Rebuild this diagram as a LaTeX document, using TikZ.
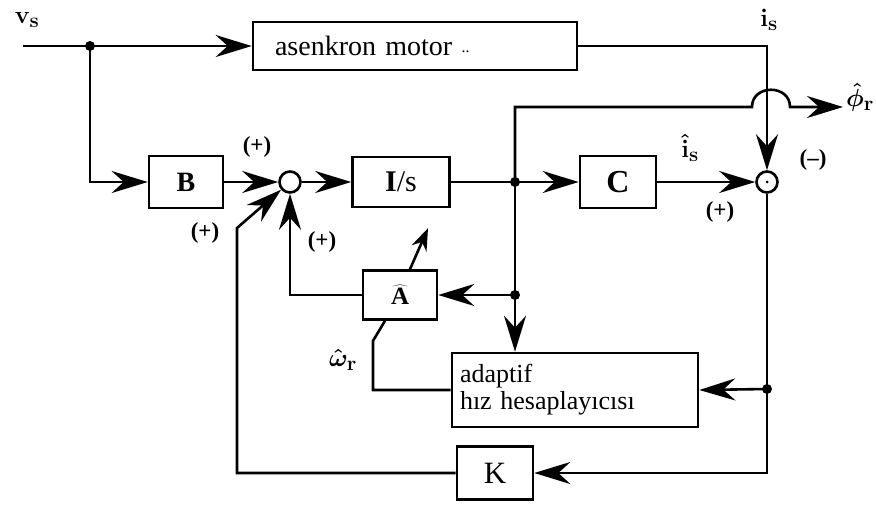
\documentclass[tikz,border=0pt]{standalone}
\usepackage{fontspec}
\setmainfont{Liberation Serif}
\usetikzlibrary{arrows.meta}
\begin{document}
\begin{tikzpicture}[x=1pt, y=-1pt, line width=2.6pt,
  arr/.style={-{Stealth[length=36pt,width=22pt,inset=12pt]}},
  adj/.style={-{Stealth[length=22pt,width=16pt,inset=7pt]}},
  blk/.style={draw, rectangle, inner sep=0pt},
  sumpt/.style={draw, circle, minimum size=21pt, inner sep=0pt},
  sgn/.style={font=\bfseries\fontsize{23}{25}\selectfont},
  lbl/.style={font=\boldmath\fontsize{29}{31}\selectfont}]
\useasboundingbox (0,0) rectangle (876,504);
% blocks
\node[blk, minimum width=324pt, minimum height=48pt, text width=280pt, align=left,
      font=\fontsize{28}{30}\selectfont] (motor) at (415,46)
      {asenkron motor \raisebox{3pt}{\fontsize{16}{16}\selectfont..}};
\node[blk, minimum width=74pt, minimum height=52pt, font=\bfseries\fontsize{28}{30}\selectfont] (B) at (186,182) {B};
\node[sumpt] (s1) at (290,182) {};
\node[blk, minimum width=97pt, minimum height=50pt, font=\fontsize{30}{32}\selectfont] (integ) at (401,182) {\textbf{I}/s};
\node[blk, minimum width=76pt, minimum height=52pt, font=\bfseries\fontsize{32}{34}\selectfont] (C) at (618,182) {C};
\node[sumpt] (s2) at (767,182) {};
\node[blk, minimum width=74pt, minimum height=49pt, font=\fontsize{24.88}{27}\selectfont] (Ahat) at (400,295) {$\widehat{\mathbf{A}}$};
\node[blk, minimum width=246pt, minimum height=74pt, text width=230pt, align=left,
      font=\fontsize{26}{27}\selectfont] (adapt) at (575,390) {adaptif\\hız hesaplayıcısı};
\node[blk, minimum width=76pt, minimum height=53pt, font=\fontsize{31}{33}\selectfont] (K) at (495,473) {K};
% branch points
\coordinate (in) at (23,46);
\coordinate (j1) at (90,46);
\coordinate (j2) at (515,182);
\coordinate (j3) at (515,295);
\coordinate (j4) at (767,389);
\coordinate (fb) at (237,228);
\coordinate (phi) at (843,107);
% signal lines
\draw (in) -- (j1);
\draw[arr] (j1) -- (motor.west);
\draw[arr] (j1) |- (B.west);
\draw[arr] (B) -- (s1);
\draw[arr] (s1) -- (integ);
\draw (integ) -- (j2);
\draw[arr] (j2) -- (C);
\draw[arr] (C) -- (s2);
\draw[arr] (motor.east) -| (s2.north);
\draw[arr] (j2) -- (515,107) -- (752,107) .. controls (752,84) and (790,84) .. (790,107) -- (phi);
\draw (j2) -- (j3);
\draw[arr] (j3) -- (Ahat);
\draw[arr] (j3) -- (adapt.north -| j3);
\draw[arr] (Ahat.west) -| (s1.south);
\draw ([xshift=-15pt]Ahat.south) -- ++(-12,20) |- (adapt.west);
\draw (s2) -- (j4);
\draw[arr] (j4) -- (adapt.east);
\draw[arr] (j4) |- (K.east);
\draw[arr] (K.west) -| (fb) -- (s1);
\draw[adj] ([xshift=10pt]Ahat.north) -- ++(18,-41);
% dots
\fill (j1) circle (5pt);
\fill (j2) circle (5pt);
\fill (j3) circle (5pt);
\fill (j4) circle (5pt);
\fill (s2) circle (1.5pt);
% labels
\node[lbl] (vs) at (27,20) {$\mathbf{v}_{\mathbf{s}}$};
\node[lbl] (is) at (769,20) {$\mathbf{i}_{\mathbf{s}}$};
\node[lbl] (phir) at (860,97) {$\hat{\phi}_{\mathbf{r}}$};
\node[lbl] (ishat) at (690,148) {$\hat{\mathbf{i}}_{\mathbf{s}}$};
\node[lbl] (wr) at (343,360) {$\hat{\omega}_{\mathbf{r}}$};
\node[sgn] (p1) at (257,147) {(+)};
\node[sgn] (p2) at (205,233) {(+)};
\node[sgn] (p3) at (322,242) {(+)};
\node[sgn] (p4) at (720,212) {(+)};
\node[sgn] (m1) at (813,160) {(--)};
\end{tikzpicture}
\end{document}
